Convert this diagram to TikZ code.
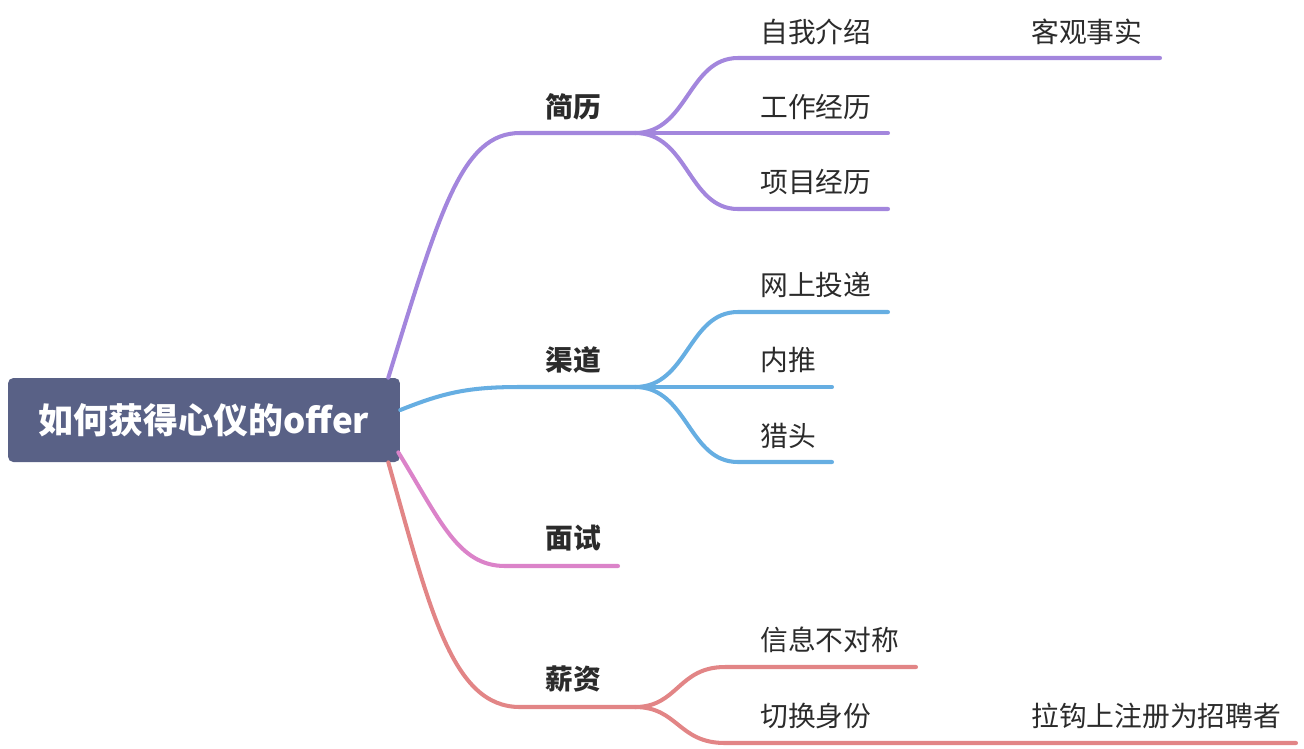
\documentclass[tikz,border=0pt]{standalone}
\usepackage{fontspec}
\setmainfont{Noto Sans CJK SC}
\usepackage{xcolor}
\usetikzlibrary{positioning, calc}
\definecolor{rootblue}{HTML}{596186}
\definecolor{lilac}{HTML}{A386DD}
\definecolor{skyblue}{HTML}{66AEE2}
\definecolor{orchid}{HTML}{DB83C9}
\definecolor{salmon}{HTML}{E28586}
\definecolor{inkgray}{HTML}{2B2B2B}

\begin{document}
\begin{tikzpicture}[x=0.02cm, y=-0.02cm, line cap=round,
    root/.style={rectangle, rounded corners=3pt, fill=rootblue, text=white, minimum width=7.84cm, minimum height=1.68cm, inner sep=0pt, font=\fontsize{19.9}{24}\selectfont\bfseries},
    topic/.style={anchor=west, inner sep=0pt, text=inkgray, font=\fontsize{15.8}{19}\selectfont\bfseries},
    subtopic/.style={anchor=west, inner sep=0pt, text=inkgray, font=\fontsize{15.8}{19}\selectfont},
    branch/.style={line width=2.3pt}]
\useasboundingbox (0,0) rectangle (1304,748);

\node[root] (root) at (204,420) {如何获得心仪的offer};

% first level
\node[topic] (jianli) at (545,107) {简历};
\node[topic] (qudao) at (545,360) {渠道};
\node[topic] (mianshi) at (545,538) {面试};
\node[topic] (xinzi) at (545,679) {薪资};

% second level
\node[subtopic] (ziwo) at (760,32) {自我介绍};
\node[subtopic] (gongzuo) at (760,107) {工作经历};
\node[subtopic] (xiangmu) at (760,182) {项目经历};
\node[subtopic] (wangshang) at (760,285) {网上投递};
\node[subtopic] (neitui) at (760,360) {内推};
\node[subtopic] (lietou) at (760,436) {猎头};
\node[subtopic] (xinxi) at (760,640) {信息不对称};
\node[subtopic] (qiehuan) at (760,716) {切换身份};

% third level
\node[subtopic] (keguan) at (1031,32) {客观事实};
\node[subtopic] (lagou) at (1031,716) {拉钩上注册为招聘者};

% underline points
\coordinate (jianli-a) at (520,133);  \coordinate (jianli-b) at (635,133);
\coordinate (qudao-a) at (520,387);   \coordinate (qudao-b) at (635,387);
\coordinate (mianshi-a) at (505,566); \coordinate (mianshi-b) at (618,566);
\coordinate (xinzi-a) at (520,707);   \coordinate (xinzi-b) at (635,707);
\coordinate (ziwo-a) at (738,58);      \coordinate (ziwo-b) at (888,58);
\coordinate (keguan-b) at (1160,58);
\coordinate (gongzuo-b) at (888,133);
\coordinate (xiangmu-a) at (738,209);  \coordinate (xiangmu-b) at (888,209);
\coordinate (wangshang-a) at (738,312); \coordinate (wangshang-b) at (888,312);
\coordinate (neitui-b) at (832,387);
\coordinate (lietou-a) at (738,462);   \coordinate (lietou-b) at (832,462);
\coordinate (xinxi-a) at (725,667);    \coordinate (xinxi-b) at (916,667);
\coordinate (qiehuan-a) at (725,743);  \coordinate (qiehuan-b) at (888,743);
\coordinate (lagou-b) at (1296,743);

% root to first level
\draw[branch, lilac] ($(root.north east)+(-12,0)$) .. controls (440,210) and (462,133) .. (jianli-a) -- (jianli-b);
\draw[branch, skyblue] ($(root.east)+(0,-10)$) .. controls (445,392) and (470,387) .. (qudao-a) -- (qudao-b);
\draw[branch, orchid] ($(root.south east)+(-2,-10)$) .. controls (440,520) and (458,566) .. (mianshi-a) -- (mianshi-b);
\draw[branch, salmon] ($(root.south east)+(-12,0)$) .. controls (430,610) and (452,707) .. (xinzi-a) -- (xinzi-b);

% first to second level
\draw[branch, lilac] (jianli-b) .. controls (688,133) and (688,58) .. (ziwo-a) -- (ziwo-b) -- (keguan-b);
\draw[branch, lilac] (jianli-b) -- (gongzuo-b);
\draw[branch, lilac] (jianli-b) .. controls (688,133) and (688,209) .. (xiangmu-a) -- (xiangmu-b);
\draw[branch, skyblue] (qudao-b) .. controls (688,387) and (688,312) .. (wangshang-a) -- (wangshang-b);
\draw[branch, skyblue] (qudao-b) -- (neitui-b);
\draw[branch, skyblue] (qudao-b) .. controls (688,387) and (688,462) .. (lietou-a) -- (lietou-b);
\draw[branch, salmon] (xinzi-b) .. controls (678,707) and (678,667) .. (xinxi-a) -- (xinxi-b);
\draw[branch, salmon] (xinzi-b) .. controls (678,707) and (678,743) .. (qiehuan-a) -- (qiehuan-b) -- (lagou-b);

\end{tikzpicture}
\end{document}
